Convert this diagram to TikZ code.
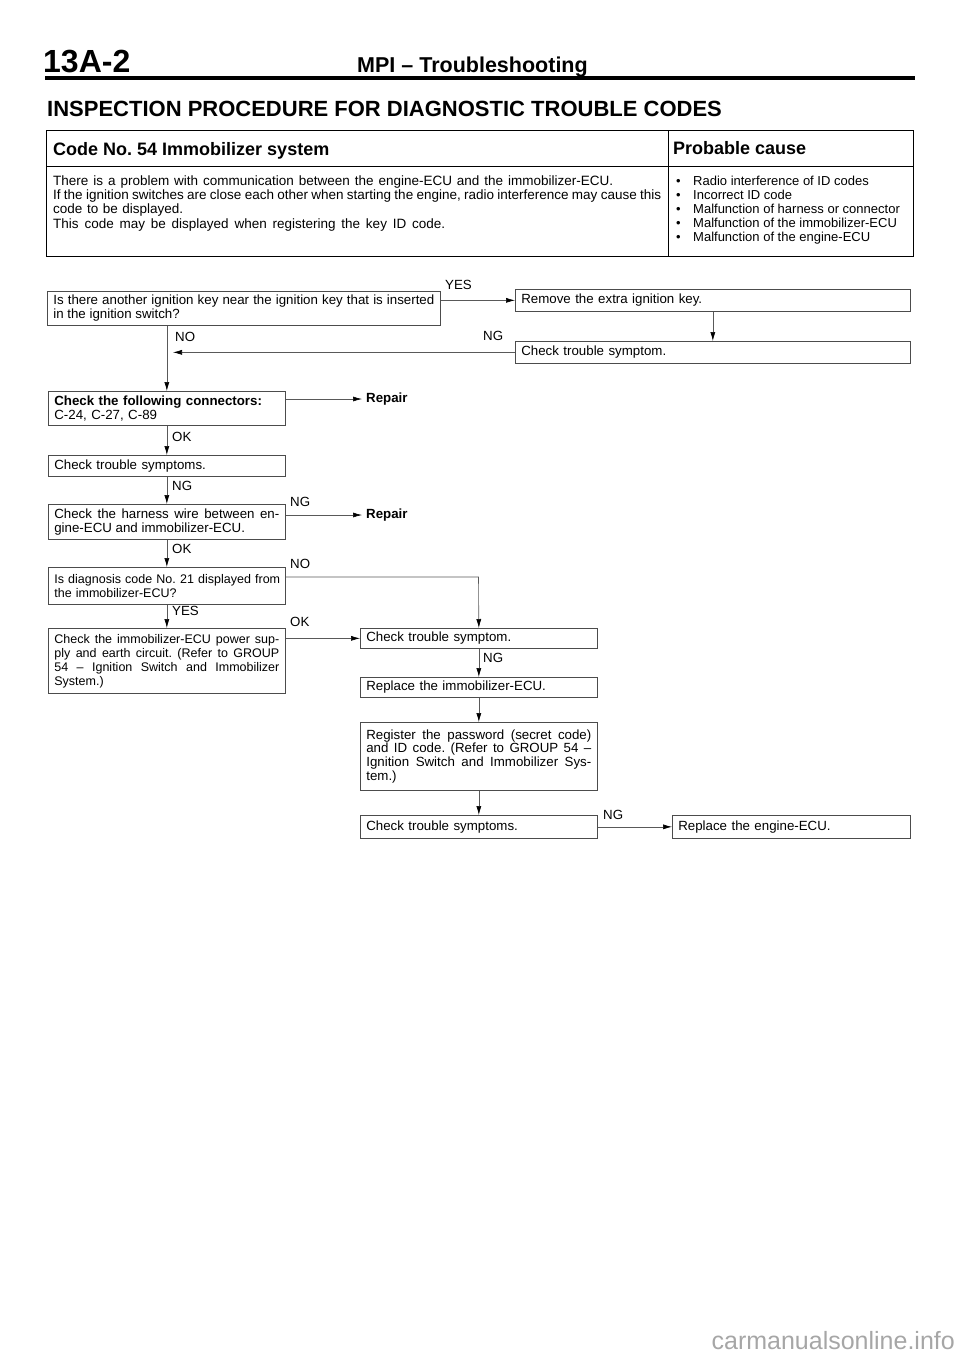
\documentclass[tikz,border=0pt]{standalone}
\usepackage{fontspec}
\setmainfont{Liberation Sans}
\usetikzlibrary{arrows.meta}

\newcommand{\flowfont}{\fontsize{13.3}{13.8}\selectfont}
\newcommand{\narrowfont}{\fontsize{12.5}{14}\selectfont}
\newcommand{\bodyfont}{\fontsize{13.5}{14.2}\selectfont}
\newcommand{\causefont}{\fontsize{13}{14.2}\selectfont}
\newcommand{\bodyline}[2]{\makebox[#1][s]{#2}}

\begin{document}
\frenchspacing
\begin{tikzpicture}[x=1pt, y=-1pt,
  box/.style={draw=black!70, line width=0.7pt, anchor=north west, inner xsep=6pt, inner ysep=0pt, font=\flowfont, align=left},
  lbl/.style={anchor=west, inner sep=0pt, font=\flowfont},
  flow/.style={draw=black!65, line width=0.6pt, -{Latex[length=9pt,width=5pt,black]}}]
\useasboundingbox (0,0) rectangle (960,1358);

% page header
\node[anchor=base west, inner sep=0pt, font=\fontsize{32}{32}\selectfont\bfseries] (page) at (43,72) {13A-2};
\node[anchor=base west, inner sep=0pt, font=\fontsize{21.5}{22}\selectfont\bfseries] (title) at (357,72) {MPI -- Troubleshooting};
\draw[line width=3.5pt] (45,78) -- (915,78);
\node[anchor=base west, inner sep=0pt, font=\fontsize{22}{22}\selectfont\bfseries] (heading) at (47,116) {INSPECTION PROCEDURE FOR DIAGNOSTIC TROUBLE CODES};

% code table
\draw[line width=0.9pt] (46,130) rectangle (913,256);
\draw[line width=0.7pt] (668,130) -- (668,256);
\draw[line width=0.7pt] (46,166) -- (913,166);
\node[anchor=base west, inner sep=0pt, font=\fontsize{18}{18}\selectfont\bfseries] (code) at (53,155) {Code No. 54 Immobilizer system};
\node[anchor=base west, inner sep=0pt, font=\fontsize{18}{18}\selectfont\bfseries] (cause) at (673,154) {Probable cause};
\node[anchor=north west, inner sep=0pt, align=left, font=\bodyfont] (desc) at (53,175.5) {\bodyline{560pt}{There is a problem with communication between the engine-ECU and the immobilizer-ECU.}\\
\bodyline{608pt}{If the ignition switches are close each other when starting the engine, radio interference may cause this}\\
\bodyline{130pt}{code to be displayed.}\\
\bodyline{392pt}{This code may be displayed when registering the key ID code.}};
\node[anchor=north west, inner sep=0pt, align=left, font=\causefont] (causes) at (676,175.5) {\makebox[17pt][l]{•}Radio interference of ID codes\\
\makebox[17pt][l]{•}Incorrect ID code\\
\makebox[17pt][l]{•}Malfunction of harness or connector\\
\makebox[17pt][l]{•}Malfunction of the immobilizer-ECU\\
\makebox[17pt][l]{•}Malfunction of the engine-ECU};

% flow chart boxes
\node[box, text width=381pt, minimum height=34pt, align=justify] (key) at (47,291) {Is there another ignition key near the ignition key that is inserted\linebreak in the ignition switch?};
\node[box, text width=383pt, minimum height=22pt] (remove) at (515,289) {Remove the extra ignition key.};
\node[box, text width=383pt, minimum height=22pt] (check1) at (515,341) {Check trouble symptom.};
\node[box, text width=225pt, minimum height=34pt] (conn) at (48,391) {\textbf{Check the following connectors:}\\C-24, C-27, C-89};
\node[box, text width=225pt, minimum height=21pt] (check2) at (48,455) {Check trouble symptoms.};
\node[box, text width=225pt, minimum height=35pt, align=justify] (harness) at (48,504) {Check the harness wire between en-\linebreak gine-ECU and immobilizer-ECU.};
\node[box, text width=225pt, minimum height=37pt, font=\narrowfont] (diag) at (48,567) {\mbox{Is diagnosis code No. 21 displayed from}\\the immobilizer-ECU?};
\node[box, text width=225pt, minimum height=65pt, align=justify, font=\narrowfont] (power) at (48,628) {Check the immobilizer-ECU power sup-\linebreak ply and earth circuit. (Refer to GROUP\linebreak 54 -- Ignition Switch and Immobilizer\linebreak System.)};
\node[box, text width=225pt, minimum height=20pt] (check3) at (360,628) {Check trouble symptom.};
\node[box, text width=225pt, minimum height=20pt] (immo) at (360,677) {Replace the immobilizer-ECU.};
\node[box, text width=225pt, minimum height=68pt, align=justify] (regist) at (360,722) {Register the password (secret code)\linebreak and ID code. (Refer to GROUP 54 --\linebreak Ignition Switch and Immobilizer Sys-\linebreak tem.)};
\node[box, text width=225pt, minimum height=23pt] (check4) at (360,815) {Check trouble symptoms.};
\node[box, text width=226pt, minimum height=23pt] (engine) at (672,815) {Replace the engine-ECU.};

\node[anchor=west, inner xsep=4pt, inner ysep=0pt, font=\flowfont\bfseries] (rep1) at (362,399) {Repair};
\node[anchor=west, inner xsep=4pt, inner ysep=0pt, font=\flowfont\bfseries] (rep2) at (362,515) {Repair};

% connectors
\coordinate (ngend) at (173,0);
\coordinate (nobend) at (478.5,577);
\draw[flow] (key.east |- remove.west) -- (remove.west);
\draw[flow] (remove.south) -- (check1.north);
\draw[flow] (check1.west) -- (check1.west -| ngend);
\draw[flow] (key.south -| conn.north) -- (conn.north);
\draw[flow] (conn.east |- rep1.west) -- (rep1.west);
\draw[flow] (conn.south) -- (check2.north);
\draw[flow] (check2.south) -- (harness.north);
\draw[flow] (harness.east |- rep2.west) -- (rep2.west);
\draw[flow] (harness.south) -- (diag.north);
\draw[flow] (diag.east |- nobend) -- (nobend) -- (check3.north);
\draw[flow] (diag.south) -- (power.north);
\draw[flow] (power.east |- check3.west) -- (check3.west);
\draw[flow] (check3.south) -- (immo.north);
\draw[flow] (immo.south) -- (regist.north);
\draw[flow] (regist.south) -- (check4.north);
\draw[flow] (check4.east) -- (engine.west);

% branch labels
\node[lbl] (yes1) at (445,285) {YES};
\node[lbl] (no1) at (175,337) {NO};
\node[lbl] (ng1) at (483,336) {NG};
\node[lbl] (ok1) at (172,437) {OK};
\node[lbl] (ng2) at (172,486) {NG};
\node[lbl] (ng3) at (290,502) {NG};
\node[lbl] (ok2) at (172,549) {OK};
\node[lbl] (no2) at (290,564) {NO};
\node[lbl] (yes2) at (172,611) {YES};
\node[lbl] (ok3) at (290,622) {OK};
\node[lbl] (ng4) at (483,658) {NG};
\node[lbl] (ng5) at (603,815) {NG};

\node[anchor=base east, inner sep=0pt, font=\fontsize{25}{25}\selectfont, text=black!35] (site) at (955,1349) {carmanualsonline.info};
\end{tikzpicture}
\end{document}
